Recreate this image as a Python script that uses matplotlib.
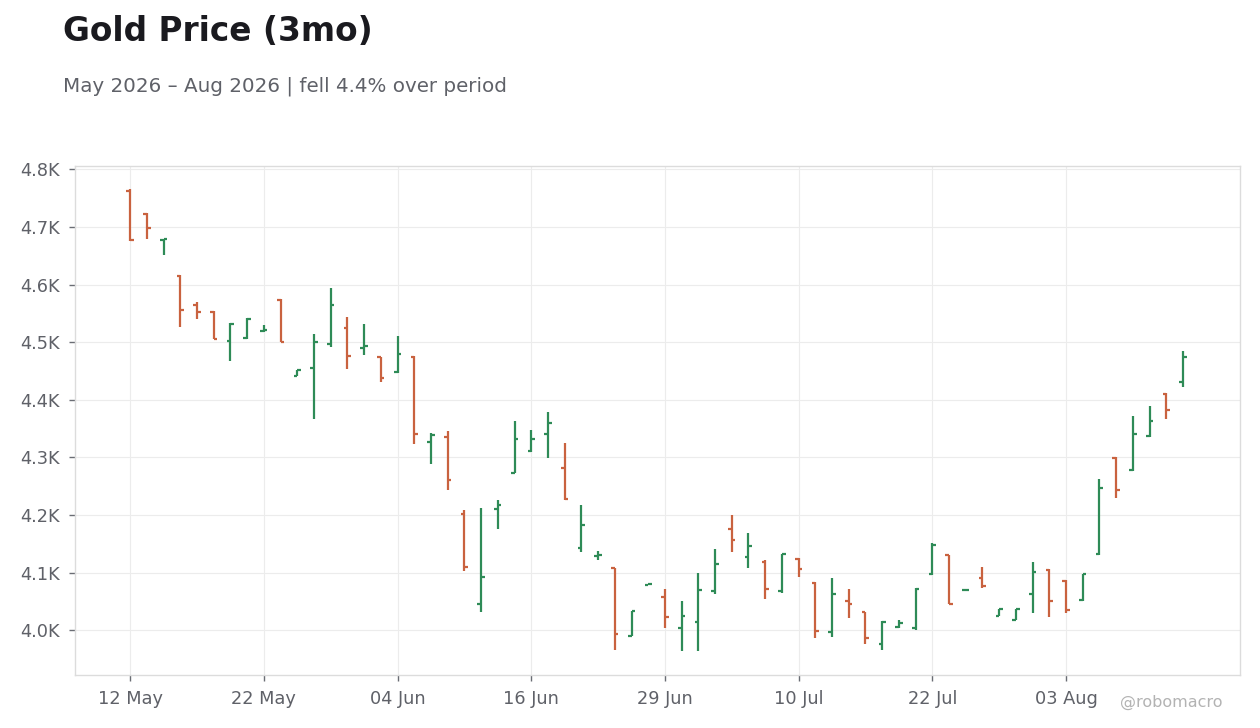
import numpy as np
import matplotlib.pyplot as plt

# daily OHLC, 64 trading days from 12 May 2026
opens = [4763, 4723, 4677, 4615, 4564, 4553, 4502, 4508, 4519, 4573,
         4442, 4456, 4496, 4525, 4490, 4474, 4448, 4475, 4326, 4335,
         4202, 4045, 4211, 4273, 4311, 4341, 4282, 4142, 4129, 4107,
         3990, 4079, 4058, 4004, 4014, 4068, 4176, 4127, 4119, 4068,
         4123, 4082, 3996, 4050, 4031, 3976, 4005, 4003, 4097, 4130,
         4069, 4091, 4025, 4018, 4063, 4105, 4086, 4052, 4132, 4298,
         4278, 4337, 4410, 4430]
highs = [4766, 4724, 4680, 4617, 4570, 4554, 4534, 4542, 4530, 4575,
         4452, 4514, 4594, 4544, 4532, 4475, 4511, 4476, 4343, 4346,
         4208, 4212, 4226, 4363, 4347, 4379, 4325, 4217, 4137, 4108,
         4033, 4080, 4071, 4050, 4100, 4140, 4200, 4168, 4121, 4132,
         4125, 4083, 4091, 4071, 4032, 4016, 4018, 4073, 4152, 4131,
         4070, 4109, 4037, 4037, 4119, 4106, 4087, 4098, 4263, 4300,
         4372, 4389, 4411, 4485]
lows = [4676, 4680, 4651, 4526, 4540, 4505, 4467, 4506, 4518, 4500,
        4441, 4366, 4491, 4453, 4477, 4430, 4447, 4323, 4288, 4243,
        4102, 4032, 4175, 4272, 4310, 4298, 4226, 4136, 4121, 3965,
        3989, 4079, 4003, 3964, 3964, 4062, 4135, 4107, 4054, 4065,
        4092, 3987, 3988, 4021, 3975, 3966, 4004, 4001, 4096, 4045,
        4069, 4073, 4024, 4017, 4030, 4023, 4029, 4050, 4131, 4230,
        4277, 4335, 4367, 4422]
closes = [4677, 4699, 4679, 4556, 4553, 4506, 4532, 4541, 4521, 4501,
          4451, 4501, 4564, 4476, 4493, 4438, 4479, 4340, 4339, 4261,
          4110, 4093, 4218, 4331, 4332, 4360, 4227, 4183, 4131, 3993,
          4033, 4080, 4023, 4024, 4069, 4114, 4156, 4146, 4071, 4132,
          4106, 3998, 4062, 4045, 3986, 4014, 4012, 4072, 4147, 4046,
          4070, 4076, 4037, 4037, 4101, 4051, 4035, 4097, 4246, 4243,
          4341, 4363, 4383, 4475]

tick_pos = [0, 8, 16, 24, 32, 40, 48, 56]
tick_labels = ['12 May', '22 May', '04 Jun', '16 Jun', '29 Jun', '10 Jul', '22 Jul', '03 Aug']

up_color = '#2e8b57'
down_color = '#c9623f'
grey_text = '#5f6168'

fig = plt.figure(figsize=(12.6, 7.28), dpi=100)
ax = fig.add_axes([0.0595, 0.0728, 0.9245, 0.6992])

x = np.arange(len(opens))
o = np.array(opens)
h = np.array(highs)
l = np.array(lows)
c = np.array(closes)
colors = np.where(c >= o, up_color, down_color)

tw = 0.22
ax.vlines(x, l, h, colors=colors, linewidth=1.6, zorder=3)
ax.hlines(o, x - tw, x, colors=colors, linewidth=1.6, zorder=3)
ax.hlines(c, x, x + tw, colors=colors, linewidth=1.6, zorder=3)

ax.set_xlim(-3.3, 66.4)
ax.set_ylim(3922, 4806)
ax.set_xticks(tick_pos)
ax.set_xticklabels(tick_labels)
yt = [4000, 4100, 4200, 4300, 4400, 4500, 4600, 4700, 4800]
ax.set_yticks(yt)
ax.set_yticklabels([f'{v/1000:.1f}K' for v in yt])

ax.grid(True, color='#ececec', linewidth=0.8, zorder=0)
ax.set_axisbelow(True)
for s in ax.spines.values():
    s.set_color('#dcdcdc')
    s.set_linewidth(1.0)
ax.tick_params(axis='both', colors='#6a6d74', labelcolor=grey_text, labelsize=12.8,
               length=4, width=1, pad=7)

fig.text(0.05, 0.943, 'Gold Price (3mo)', fontsize=23.6, fontweight='bold',
         color='#1a1a1f', va='baseline', ha='left')
fig.text(0.05, 0.874, 'May 2026 – Aug 2026 | fell 4.4% over period', fontsize=14.3,
         color=grey_text, va='baseline', ha='left')
fig.text(0.970, 0.029, '@robomacro', fontsize=11.5, color='#b3b3b3',
         va='baseline', ha='right')

fig.savefig('out.png', dpi=100, facecolor='white')
